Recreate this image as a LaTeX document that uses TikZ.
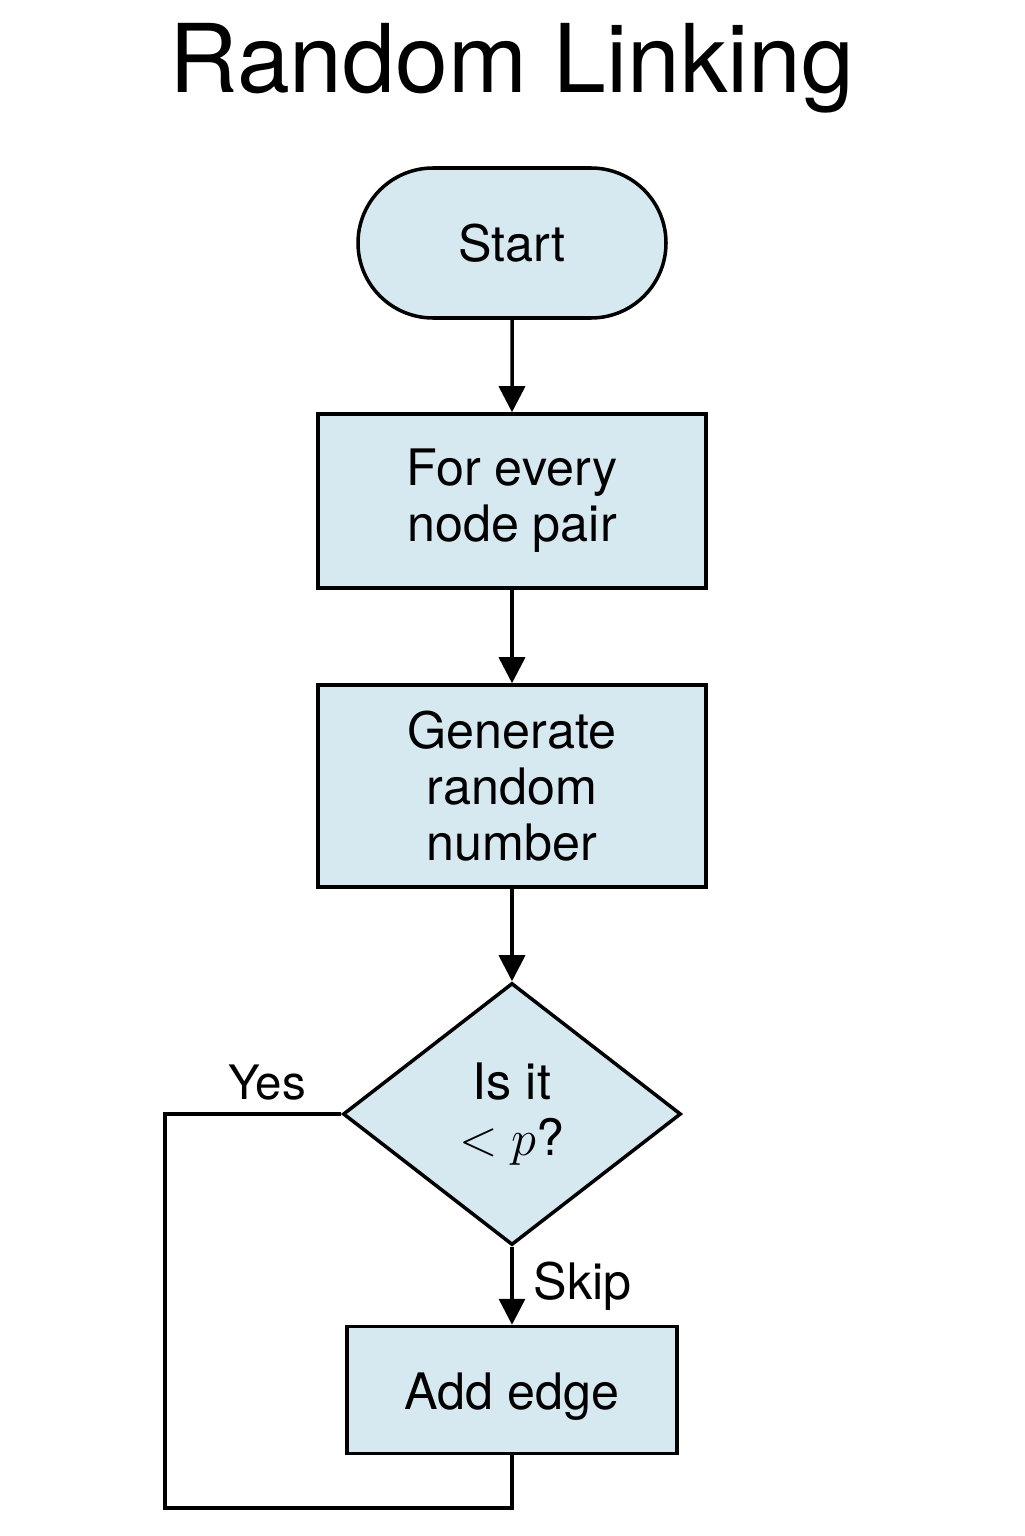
\documentclass[tikz,border=0pt]{standalone}
\usepackage{fontspec}
\setmainfont{TeX Gyre Heros}
\usetikzlibrary{shapes.geometric,shapes.misc,arrows.meta}
\definecolor{boxblue}{RGB}{215,233,240}
\begin{document}
\begin{tikzpicture}[
    line width=1pt,
    every node/.style={font=\fontsize{14.3}{16}\selectfont,align=center},
    block/.style={rectangle,draw,fill=boxblue,inner sep=0pt},
    arr/.style={-{Triangle[length=2.6mm,width=2.6mm]}}
  ]
        \useasboundingbox (0,0) rectangle (10.24,-15.36);
        \draw (5.12,-0.68) node[font=\fontsize{27}{30}\selectfont](title){Random Linking};
        \draw (5.12,-2.43) node[rounded rectangle,draw,fill=boxblue,inner sep=0pt,
          minimum width=3.08cm,minimum height=1.5cm](start){Start};
        \draw (5.12,-5.01) node[block,minimum width=3.88cm,minimum height=1.74cm](loop){For every\\node pair};
        \draw (5.12,-7.86) node[block,minimum width=3.88cm,minimum height=2.02cm](rand){Generate\\random\\number};
        \draw (5.12,-11.14) node[diamond,draw,fill=boxblue,inner sep=0pt,
          minimum width=3.38cm,minimum height=2.62cm](test){Is it\\$<p$?};
        \draw (5.12,-13.9) node[block,minimum width=3.30cm,minimum height=1.27cm,
          text height=0.5cm](add){Add edge};
        \coordinate (turn) at (1.65,-15.08);
        \draw[arr]
          (start) -- (loop);
        \draw[arr]
          (loop) -- (rand);
        \draw[arr]
          (rand) -- (test);
        \draw[arr]
          (test) -- node[right,xshift=0.08cm]{Skip} (add);
        \draw
          (test.west) -- node[above,pos=0.42,font=\fontsize{13.5}{16}\selectfont]{Yes} (test.west -| turn)
          |- (add.south |- turn) -- (add.south)
        ;
      \end{tikzpicture}
\end{document}
